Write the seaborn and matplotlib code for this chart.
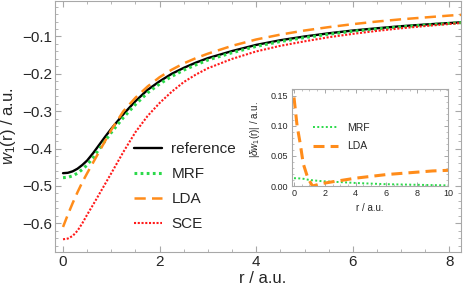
import numpy as np
import pandas as pd
import matplotlib
matplotlib.use("Agg")
import matplotlib.pyplot as plt
import seaborn as sns
from matplotlib.ticker import MultipleLocator

# main panel: w1(r) for the different approximations
r = [0, 0.1, 0.2, 0.3, 0.4, 0.5, 0.625, 0.75, 0.875, 1.0, 1.25, 1.5, 1.75, 2.0,
     2.25, 2.5, 2.75, 3.0, 3.5, 4.0, 4.5, 5.0, 5.5, 6.0, 6.5, 7.0, 7.5, 8.0, 8.25]
w_ref = [-0.466, -0.465, -0.461, -0.454, -0.444, -0.432, -0.412, -0.390, -0.368,
         -0.347, -0.308, -0.273, -0.243, -0.220, -0.200, -0.184, -0.170, -0.158,
         -0.139, -0.1225, -0.110, -0.100, -0.0915, -0.084, -0.078, -0.0725, -0.068,
         -0.064, -0.062]
w_mrf = [-0.478, -0.477, -0.473, -0.466, -0.456, -0.444, -0.424, -0.401, -0.379,
         -0.357, -0.317, -0.282, -0.251, -0.227, -0.207, -0.190, -0.176, -0.163,
         -0.1435, -0.1265, -0.1135, -0.103, -0.094, -0.086, -0.080, -0.074, -0.0695,
         -0.065, -0.063]
w_lda = [-0.610, -0.577, -0.546, -0.517, -0.490, -0.466, -0.437, -0.408, -0.379,
         -0.350, -0.300, -0.264, -0.234, -0.209, -0.189, -0.172, -0.158, -0.146,
         -0.125, -0.108, -0.095, -0.084, -0.075, -0.067, -0.060, -0.054, -0.049,
         -0.044, -0.042]
w_sce = [-0.643, -0.641, -0.634, -0.620, -0.600, -0.577, -0.550, -0.522, -0.494,
         -0.466, -0.409, -0.356, -0.313, -0.278, -0.248, -0.222, -0.202, -0.185,
         -0.160, -0.140, -0.125, -0.113, -0.102, -0.093, -0.085, -0.078, -0.072,
         -0.0665, -0.064]

# inset: |delta w1(r)|
r_in = [0, 0.2, 0.4, 0.6, 0.9, 1.2, 1.8, 2.5, 3, 4, 5, 6, 7, 8, 9, 10]
d_lda = [0.147, 0.100, 0.071, 0.037, 0.013, 0.0, 0.004, 0.007, 0.009, 0.013,
         0.016, 0.019, 0.021, 0.023, 0.025, 0.026]
d_mrf = [0.013, 0.0128, 0.0125, 0.012, 0.0105, 0.0095, 0.008, 0.007, 0.0065,
         0.005, 0.004, 0.003, 0.0025, 0.002, 0.0015, 0.001]

sns.set_style("ticks")
plt.rcParams["font.family"] = ["Liberation Sans", "DejaVu Sans"]
plt.rcParams["mathtext.fontset"] = "custom"
plt.rcParams["mathtext.rm"] = "Liberation Sans"
plt.rcParams["mathtext.it"] = "Liberation Sans:italic"

c_green = "#2bd94a"
c_orange = "#ff8c1a"
c_red = "#ff1a1a"
frame = "#a8a8a8"

fig = plt.figure(figsize=(4.63, 2.92), dpi=100)
ax = fig.add_axes([55/463, 1-252/292, 406/463, 251/292])

sns.lineplot(x=r, y=w_ref, ax=ax, color="black", lw=1.7, label="reference")
sns.lineplot(x=r, y=w_mrf, ax=ax, color=c_green, lw=2.2, linestyle=(0, (0.9, 1.1)), label="MRF")
sns.lineplot(x=r, y=w_lda, ax=ax, color=c_orange, lw=1.8, linestyle=(0, (4.5, 2.5)), label="LDA")
sns.lineplot(x=r, y=w_sce, ax=ax, color=c_red, lw=1.5, linestyle=(0, (1, 0.8)), label="SCE")

ax.set_xlim(-0.166, 8.24)
ax.set_ylim(-0.677, -0.005)
ax.xaxis.set_major_locator(MultipleLocator(2))
ax.xaxis.set_minor_locator(MultipleLocator(0.5))
ax.yaxis.set_major_locator(MultipleLocator(0.1))
ax.yaxis.set_minor_locator(MultipleLocator(0.02))
ax.tick_params(which="both", direction="in", top=True, right=True, color=frame,
               labelsize=11, pad=2)
ax.tick_params(which="major", length=4, width=0.8)
ax.tick_params(which="minor", length=2.2, width=0.6)
for s in ax.spines.values():
    s.set_color(frame)
    s.set_linewidth(0.8)
ax.set_xlabel("r / a.u.", fontsize=12)
ax.set_ylabel("$w_1$(r) / a.u.", fontsize=12)
ax.xaxis.set_label_coords(0.512, -0.075)
ax.yaxis.set_label_coords(-0.09, 0.5)

ax.legend(loc="upper left", bbox_to_anchor=(134/463, 1-142/292), bbox_transform=fig.transFigure,
          frameon=False, fontsize=11, handlelength=1.8, handletextpad=0.65,
          labelspacing=0.72, borderpad=0, borderaxespad=0)

# inset
ins = fig.add_axes([292/463, 1-186/292, 156/463, 97/292])
sns.lineplot(x=r_in, y=d_mrf, ax=ins, color=c_green, lw=1.4, linestyle=(0, (1, 1.2)), label="MRF")
sns.lineplot(x=r_in, y=d_lda, ax=ins, color=c_orange, lw=2.2, linestyle=(0, (3.6, 2)), label="LDA")
ins.set_xlim(-0.13, 10)
ins.set_ylim(0, 0.161)
ins.xaxis.set_major_locator(MultipleLocator(2))
ins.xaxis.set_minor_locator(MultipleLocator(0.5))
ins.yaxis.set_major_locator(MultipleLocator(0.05))
ins.yaxis.set_minor_locator(MultipleLocator(0.01))
ins.yaxis.set_major_formatter(matplotlib.ticker.FormatStrFormatter("%.2f"))
ins.tick_params(which="both", direction="in", top=True, right=True, color=frame,
                labelsize=6.5, pad=2.5)
ins.tick_params(which="major", length=3, width=0.7)
ins.tick_params(which="minor", length=1.6, width=0.5)
for s in ins.spines.values():
    s.set_color(frame)
    s.set_linewidth(0.8)
ins.set_xlabel("r / a.u.", fontsize=7)
ins.set_ylabel(r"|$\delta w_1$(r)| / a.u.", fontsize=7)
ins.xaxis.set_label_coords(0.5, -0.18)
ins.yaxis.set_label_coords(-0.19, 0.58)
ins.legend(loc="upper left", bbox_to_anchor=(313/463, 1-123/292), bbox_transform=fig.transFigure,
           frameon=False, fontsize=7.5, handlelength=2.4, handletextpad=0.85,
           labelspacing=0.8, borderpad=0, borderaxespad=0)

fig.savefig("out.png", dpi=100)
